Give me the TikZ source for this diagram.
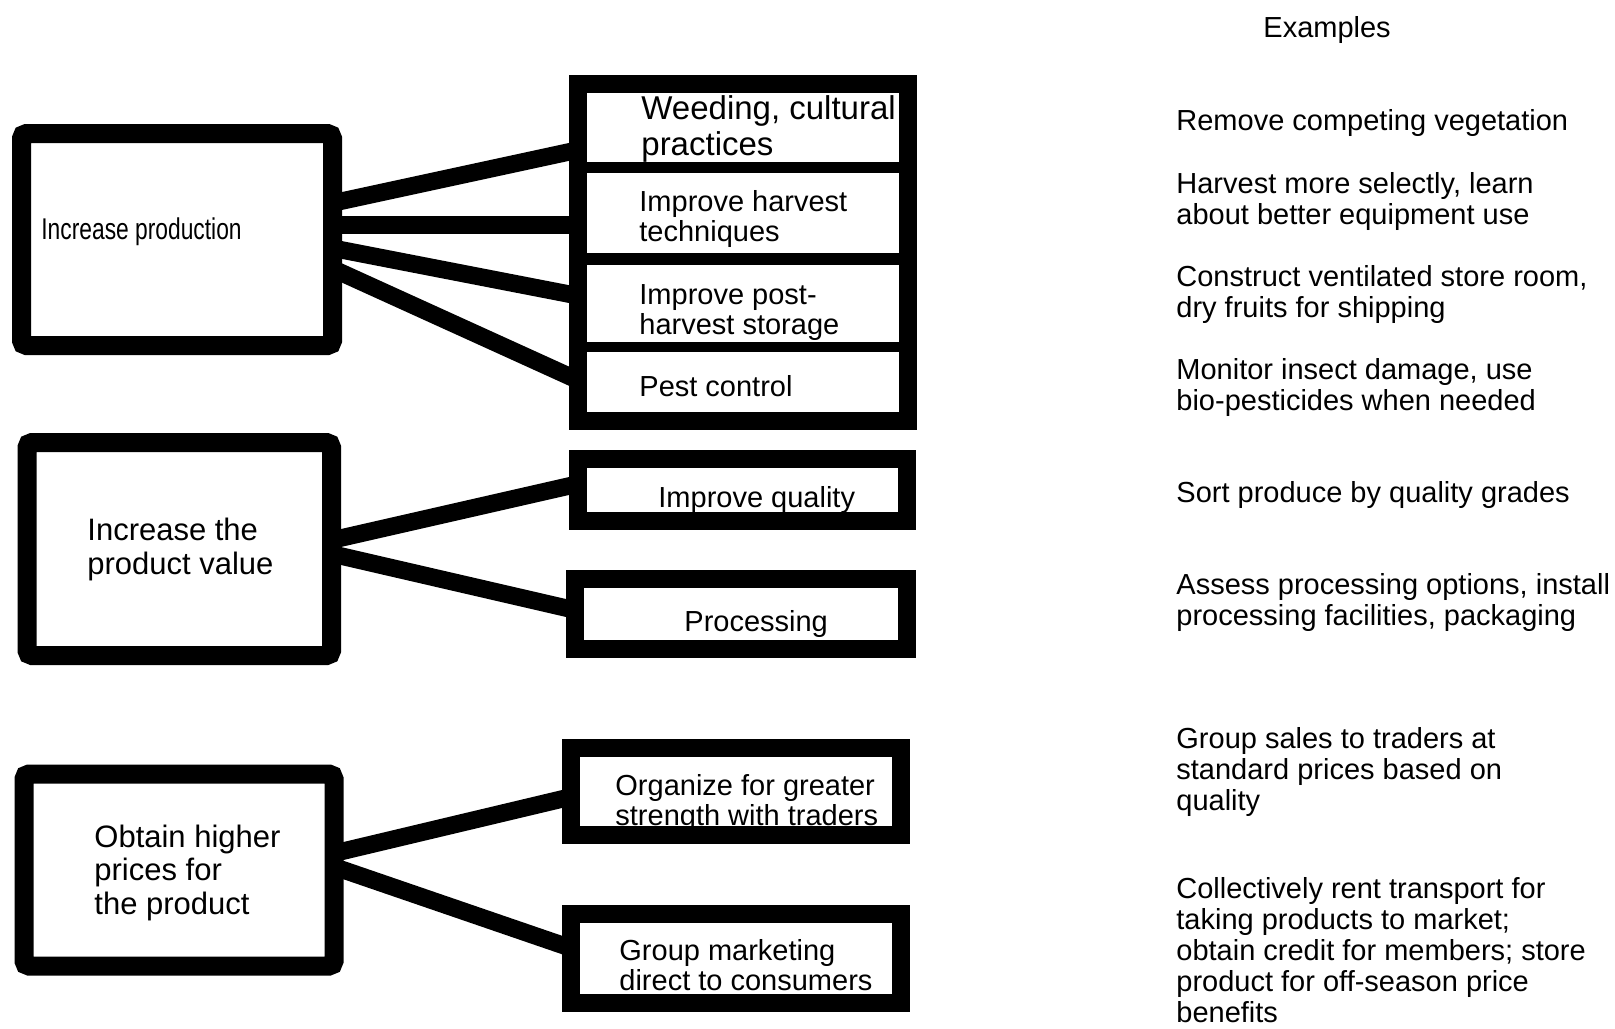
\documentclass[tikz,border=0pt]{standalone}
\usepackage{fontspec}
\setmainfont{Liberation Sans}
\newfontfamily\narrowfont[FakeStretch=0.76]{Liberation Sans}
\usetikzlibrary{fit,backgrounds}
\begin{document}
\begin{tikzpicture}[x=0.5pt,y=-0.5pt,
  lbox/.style={draw, line width=9.5pt, rounded corners=2.5pt, inner sep=0},
  rbox/.style={draw, line width=9pt, inner sep=0},
  stackbox/.style={fill=black, inner sep=0},
  cell/.style={fill=white, inner sep=0},
  conn/.style={line width=8.75pt, shorten <=-4pt, shorten >=-4pt},
  ex/.style={anchor=base west, inner sep=0, align=left, font=\fontsize{14.5}{15.5}\selectfont},
  ctxt/.style={anchor=base west, inner sep=0, align=left, font=\fontsize{14.5}{15}\selectfont},
  wtxt/.style={anchor=base west, inner sep=0, align=left, font=\fontsize{16.5}{18}\selectfont},
  btxt/.style={anchor=base west, inner sep=0, align=left, font=\fontsize{15.5}{16.6}\selectfont},
  ntxt/.style={anchor=base west, inner sep=0, align=left, font=\fontsize{15}{16}\selectfont\narrowfont}]
\useasboundingbox (0,0) rectangle (1615,1028);

% left boxes (base anchor of a multi-line node = baseline of its last line)
\node[lbox, fit={(21.5,133.5) (332.5,345.5)}] (b1) {};
\node[lbox, fit={(27,442.5) (331.5,655.5)}] (b2) {};
\node[lbox, fit={(24,774) (334,966)}] (b3) {};
\node[ntxt] (t1) at (41,239) {Increase production};
\node[btxt] (t2) at (87,574) {Increase the\\product value};
\node[btxt] (t3) at (94,914) {Obtain higher\\prices for\\the product};

% stacked box
\node[stackbox, fit={(569,75) (917,430)}] (stk) {};
\node[cell, fit={(587,93) (899,162)}] (c1) {};
\node[cell, fit={(587,173) (899,253)}] (c2) {};
\node[cell, fit={(587,265) (899,342)}] (c3) {};
\node[cell, fit={(587,352) (899,412)}] (c4) {};
\node[wtxt] (s1) at (641,155) {Weeding, cultural\\practices};
\node[ctxt] (s2) at (639,241) {Improve harvest\\techniques};
\node[ctxt] (s3) at (639,334) {Improve post-\\harvest storage};
\node[ctxt] (s4) at (639,396) {Pest control};

% other right boxes (text first, frame drawn over it)
\node[ctxt] (q1) at (658,507) {Improve quality};
\node[ctxt] (q2) at (684,631) {Processing};
\node[ctxt] (q3) at (615,825) {Organize for greater\\strength with traders};
\node[ctxt] (q4) at (619,990) {Group marketing\\direct to consumers};
\node[rbox, fit={(578,459) (907,521)}] (iq) {};
\node[rbox, fit={(575,579) (907,649)}] (pr) {};
\node[rbox, fit={(571,747.5) (901,835)}] (og) {};
\node[rbox, fit={(571,914) (901,1003)}] (gm) {};

% connectors
\begin{pgfonlayer}{background}
\draw[conn] (b1.east |- 0,201) -- (stk.west |- 0,152);
\draw[conn] (b1.east |- 0,225) -- (stk.west |- 0,225);
\draw[conn] (b1.east |- 0,250) -- (stk.west |- 0,294);
\draw[conn] (b1.east |- 0,273) -- (stk.west |- 0,376);
\draw[conn] (b2.east |- 0,538) -- (iq.west |- 0,486);
\draw[conn] (b2.east |- 0,556) -- (pr.west |- 0,608);
\draw[conn] (b3.east |- 0,851) -- (og.west |- 0,799);
\draw[conn] (b3.east |- 0,870) -- (gm.west |- 0,945);
\end{pgfonlayer}

% examples column
\node[ex] (exh) at (1263,37) {Examples};
\node[ex] (e1) at (1176,130) {Remove competing vegetation};
\node[ex] (e2) at (1176,224) {Harvest more selectly, learn\\about better equipment use};
\node[ex] (e3) at (1176,317) {Construct ventilated store room,\\dry fruits for shipping};
\node[ex] (e4) at (1176,410) {Monitor insect damage, use\\bio-pesticides when needed};
\node[ex] (e5) at (1176,502) {Sort produce by quality grades};
\node[ex] (e6) at (1176,625) {Assess processing options, install\\processing facilities, packaging};
\node[ex] (e7) at (1176,810) {Group sales to traders at\\standard prices based on\\quality};
\node[ex] (e8) at (1176,1022) {Collectively rent transport for\\taking products to market;\\obtain credit for members; store\\product for off-season price\\benefits};
\end{tikzpicture}
\end{document}
